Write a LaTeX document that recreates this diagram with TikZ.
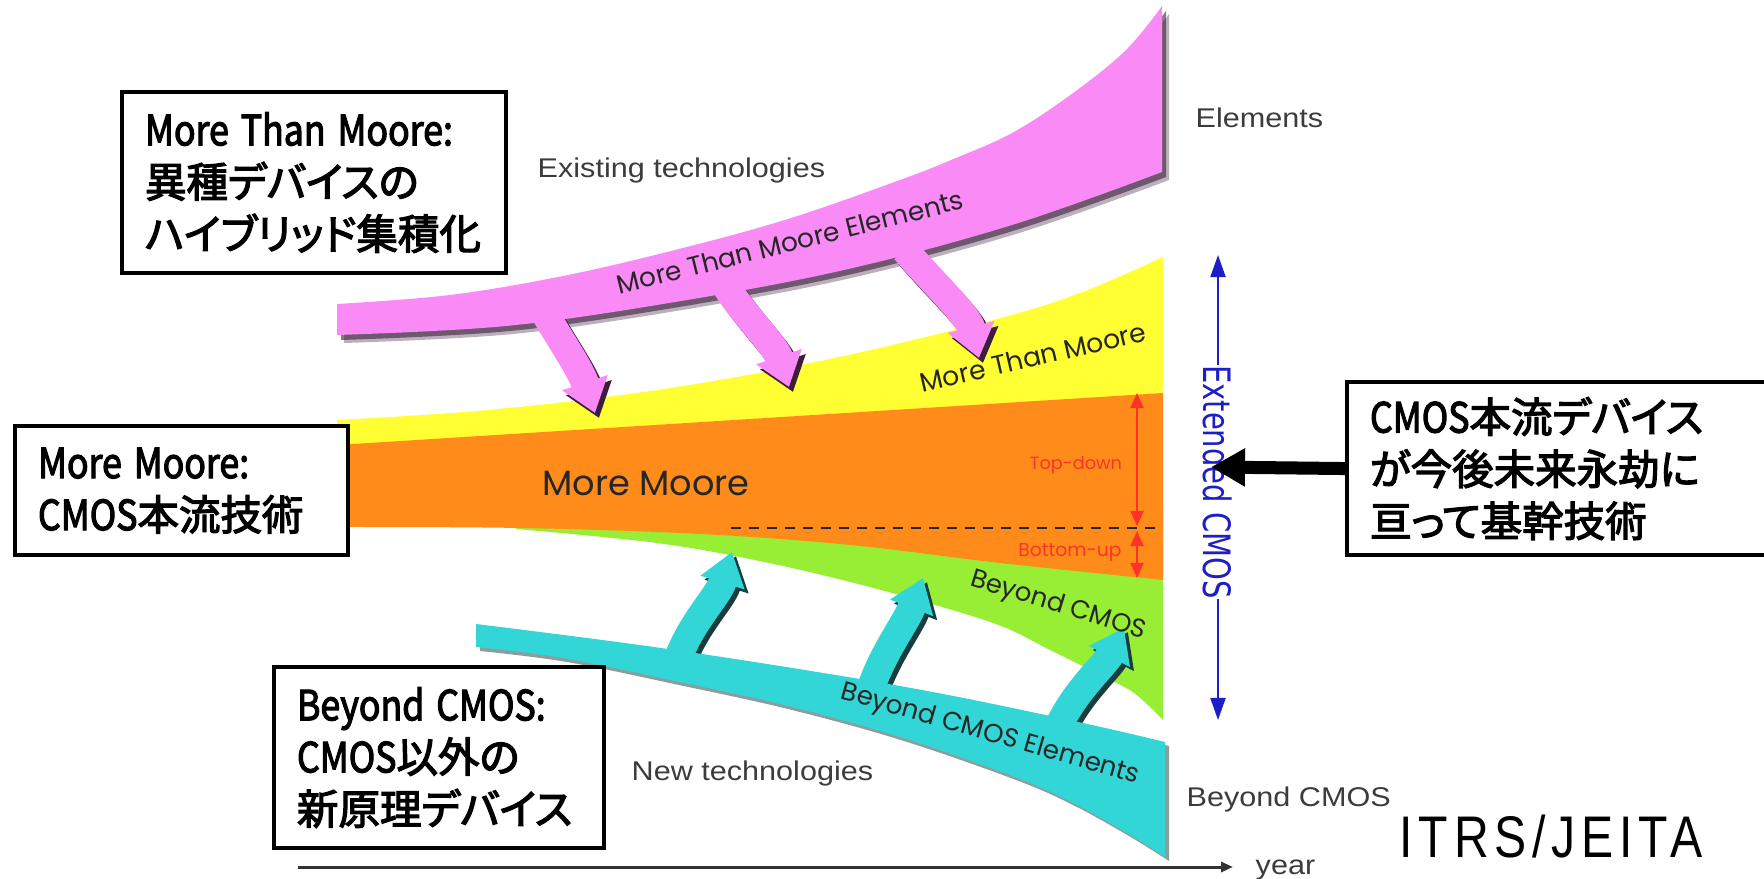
\documentclass[tikz,border=0pt]{standalone}
\usepackage{fontspec}
\usepackage{graphicx}
\usetikzlibrary{arrows.meta}
\newfontfamily\jpfont[FakeBold=3,RawFeature=+palt]{Noto Sans CJK JP}
\newfontfamily\arialf{Liberation Sans}
\newfontfamily\dejaf{DejaVu Sans}
\newfontfamily\comicf{Poppins}
\newfontfamily\itrsf[LetterSpace=12]{Liberation Sans}
\definecolor{pinkb}{RGB}{250,138,245}
\definecolor{yel}{RGB}{255,255,51}
\definecolor{ora}{RGB}{255,140,26}
\definecolor{grn}{RGB}{152,238,52}
\definecolor{cya}{RGB}{51,214,214}
\definecolor{blu}{RGB}{30,30,200}
\definecolor{redl}{RGB}{255,50,40}
\definecolor{grayt}{RGB}{60,60,60}
\definecolor{pshad}{RGB}{60,30,60}
\definecolor{cshad}{RGB}{25,60,60}
\newcommand\boxfont{\jpfont\fontsize{11.8}{14.8}\selectfont}
\newcommand\lat[1]{\scalebox{0.86}[1]{#1}}
\newcommand\fw[2]{\resizebox{#1}{!}{#2}}
\newcommand\pinkband{plot[smooth,tension=0.6] coordinates {(337,304) (450,295) (563,276) (675,250) (788,219) (900,180) (956,158) (1012,133) (1069,96) (1125,51) (1162,6)} -- plot[smooth,tension=0.6] coordinates {(1162,172) (1012,225) (844,270) (675,302) (506,326) (337,335)} -- cycle}
\newcommand\cyanband{plot[smooth,tension=0.6] coordinates {(476,624) (675,650) (900,686) (1069,720) (1165,742)} -- plot[smooth,tension=0.6] coordinates {(1165,857) (1125,832) (1069,801) (1012,776) (900,737) (788,706) (675,681) (563,658) (476,647)} -- cycle}
\begin{document}
\begin{tikzpicture}[x=0.01cm,y=-0.01cm,
  boxn/.style={draw=black, line width=0.4mm, fill=white, align=left, inner xsep=0.23cm, inner ysep=0pt, anchor=north west, font=\boxfont},
  parrow/.style={draw=pinkb, line width=0.28cm, -{Triangle[length=0.32cm,width=0.46cm]}},
  psarrow/.style={draw=pshad, line width=0.28cm, -{Triangle[length=0.32cm,width=0.46cm]}, shift={(4,5)}},
  carrow/.style={draw=cya, line width=0.28cm, -{Triangle[length=0.32cm,width=0.44cm]}},
  csarrow/.style={draw=cshad, line width=0.28cm, -{Triangle[length=0.32cm,width=0.44cm]}, shift={(4,4)}},
  comiclab/.style={inner sep=0, text=black!85, font=\comicf},
  redlab/.style={inner sep=0, text=redl, font=\comicf},
  graylab/.style={inner sep=0, anchor=base west, text=grayt, font=\arialf\fontsize{7.7}{9}\selectfont},
  redarr/.style={draw=redl, line width=0.2mm, {Triangle[length=0.15cm,width=0.13cm]}-{Triangle[length=0.15cm,width=0.13cm]}},
  bluarr/.style={draw=blu, line width=0.2mm, -{Triangle[length=0.22cm,width=0.15cm]}}
]
\useasboundingbox (0,0) rectangle (1764,879);
\fill[white] (0,0) rectangle (1764,879);
% bands
\fill[yel] plot[smooth,tension=0.6] coordinates {(337,420) (488,410) (657,390) (825,360) (993,320) (1080,293) (1163,257)} -- (1163,470) -- (337,470) -- cycle;
\fill[grn] (516,505) -- plot[smooth,tension=0.6] coordinates {(516,529) (657,543) (769,563) (881,590) (993,623) (1050,650) (1100,675) (1134,693) (1163,720)} -- (1163,505) -- cycle;
\fill[ora] (337,445) -- (1163,393) -- plot[smooth,tension=0.6] coordinates {(1163,580) (1000,563) (850,545) (700,534) (520,528) (337,527)} -- cycle;
\draw[black!85, line width=0.25mm, dash pattern=on 0.1cm off 0.08cm] (731,528) -- (1163,528);
\draw[redarr] (1137,393) -- (1137,526);
\draw[redarr] (1137,531) -- (1137,578);
% pink band and arrows
\fill[pshad, opacity=0.35] [shift={(7,8)}] \pinkband;
\fill[pshad, opacity=0.6] [shift={(4,5)}] \pinkband;
\draw[psarrow] (540,305) .. controls (560,340) and (580,368) .. (595,413);
\draw[psarrow] (725,285) .. controls (748,320) and (775,345) .. (789,387);
\draw[psarrow] (905,250) .. controls (935,285) and (968,315) .. (979,358);
\draw[parrow] (540,305) .. controls (560,340) and (580,368) .. (595,413);
\draw[parrow] (725,285) .. controls (748,320) and (775,345) .. (789,387);
\draw[parrow] (905,250) .. controls (935,285) and (968,315) .. (979,358);
\fill[pinkb] \pinkband;
% cyan band and arrows
\fill[cshad, opacity=0.5] [shift={(4,4)}] \cyanband;
\draw[csarrow] (676,665) .. controls (688,625) and (718,597) .. (732,552);
\draw[csarrow] (867,700) .. controls (880,655) and (905,625) .. (923,578);
\draw[csarrow] (1055,735) .. controls (1070,695) and (1105,665) .. (1124,628);
\draw[carrow] (676,665) .. controls (688,625) and (718,597) .. (732,552);
\draw[carrow] (867,700) .. controls (880,655) and (905,625) .. (923,578);
\draw[carrow] (1055,735) .. controls (1070,695) and (1105,665) .. (1124,628);
\fill[cya] \cyanband;
% comic labels
\node[comiclab, rotate=14] (mtme) at (790,242) {\fw{3.56cm}{More Than Moore Elements}};
\node[comiclab, rotate=13] (mtm) at (1033,357) {\fw{2.31cm}{More Than Moore}};
\node[comiclab] (mm) at (646,483) {\fw{2.07cm}{More Moore}};
\node[comiclab, rotate=-17] (bc) at (1058,606) {\fw{1.82cm}{Beyond CMOS}};
\node[comiclab, rotate=-16] (bce) at (990,735) {\fw{3.09cm}{Beyond CMOS Elements}};
\node[redlab] (td) at (1076,465) {\fw{0.92cm}{Top-down}};
\node[redlab] (bu) at (1070,552) {\fw{1.03cm}{Bottom-up}};
% gray labels
\node[graylab] (ex) at (537,177) {\scalebox{1.13}[1]{Existing technologies}};
\node[graylab] (el) at (1195,128) {\scalebox{1.13}[1]{Elements}};
\node[graylab] (nt) at (631,780) {\scalebox{1.13}[1]{New technologies}};
\node[graylab] (bcr) at (1186,806) {\scalebox{1.13}[1]{Beyond CMOS}};
\node[graylab] (yr) at (1255,874) {\scalebox{1.13}[1]{year}};
\coordinate (ax0) at (298,867);
\draw[black!80, line width=0.3mm, -{Triangle[length=0.12cm,width=0.1cm]}] (ax0) -- ([xshift=-0.22cm]yr.west |- ax0);
% extended CMOS
\node[rotate=-90, inner sep=0, text=blu, font=\dejaf\fontsize{8.25}{9}\selectfont] (ext) at (1218,482) {\scalebox{1}[1.3]{Extended CMOS}};
\coordinate (etop) at (1218,255);
\coordinate (ebot) at (1218,720);
\draw[bluarr] (ext.west) -- (etop);
\draw[bluarr] (ext.east) -- (ebot);
% boxes
\node[boxn, minimum height=1.81cm, text width=3.38cm] (b1) at (120,90) {\lat{More Than Moore:}\\異種デバイスの\\ハイブリッド集積化};
\node[boxn, minimum height=1.29cm, text width=2.87cm] (b2) at (13,424) {\lat{More Moore:}\\\lat{CMOS}本流技術};
\node[boxn, minimum height=1.81cm, text width=2.84cm] (b3) at (272,665) {\lat{Beyond CMOS:}\\\lat{CMOS}以外の\\新原理デバイス};
\node[boxn, minimum height=1.73cm, text width=4.09cm] (b4) at (1345,380) {\lat{CMOS}本流デバイス\\が今後未来永劫に\\亘って基幹技術};
\coordinate (exttip) at (1211,467);
\draw[line width=0.13cm, -{Triangle[length=0.34cm,width=0.36cm]}] (b4.west) -- (exttip);
% ITRS
\node[inner sep=0, anchor=base west, font=\itrsf\fontsize{16.7}{20}\selectfont] (itrs) at (1399,857) {\scalebox{0.82}[1]{ITRS/JEITA}};
\end{tikzpicture}
\end{document}
